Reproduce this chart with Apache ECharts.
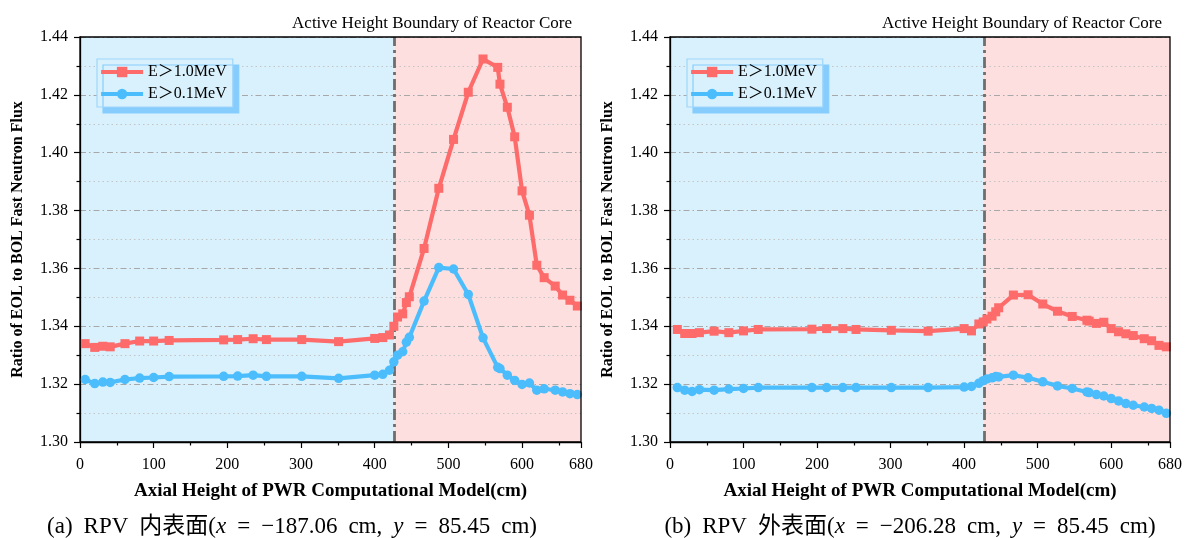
<!DOCTYPE html>
<html>
<head>
<meta charset="utf-8">
<script src="https://cdn.jsdelivr.net/npm/echarts@6/dist/echarts.min.js"></script>
<style>html,body{margin:0;padding:0;background:#fff}#c{width:1185px;height:538px}</style>
</head>
<body>
<div id="c"></div>
<script>
// ---- data ----
const seriesNames = ['E＞1.0MeV', 'E＞0.1MeV'];
const boundaryX = 427;
const yTicks = ['1.30', '1.32', '1.34', '1.36', '1.38', '1.40', '1.42', '1.44'];

const xLeft = [7, 20, 31, 41, 61, 81, 100, 121, 195, 214, 235, 253, 301, 351, 400, 411, 420, 426, 431, 438, 443, 447, 467, 487, 507, 527, 547, 567, 570, 580, 590, 600, 610, 620, 630, 645, 655, 665, 675];
const leftHigh = [1.3340, 1.3327, 1.3331, 1.3329, 1.3340, 1.3349, 1.3349, 1.3351, 1.3353, 1.3354, 1.3357, 1.3354, 1.3354, 1.3347, 1.3358, 1.3361, 1.3370, 1.3400, 1.3432, 1.3443, 1.3482, 1.3502, 1.3669, 1.3877, 1.4046, 1.4209, 1.4324, 1.4295, 1.4237, 1.4157, 1.4055, 1.3868, 1.3784, 1.3611, 1.3568, 1.3539, 1.3508, 1.3490, 1.3470];
const leftLow = [1.3216, 1.3202, 1.3207, 1.3206, 1.3216, 1.3221, 1.3223, 1.3226, 1.3227, 1.3228, 1.3231, 1.3227, 1.3227, 1.3220, 1.3231, 1.3234, 1.3248, 1.3277, 1.3300, 1.3312, 1.3345, 1.3362, 1.3487, 1.3603, 1.3598, 1.3510, 1.3360, 1.3258, 1.3254, 1.3231, 1.3213, 1.3199, 1.3204, 1.3179, 1.3184, 1.3179, 1.3173, 1.3167, 1.3164];

const xRight = [10, 20, 30, 40, 60, 80, 100, 120, 193, 213, 235, 253, 301, 351, 400, 410, 420, 426, 431, 438, 443, 447, 467, 487, 507, 527, 547, 567, 570, 580, 590, 600, 610, 620, 630, 645, 655, 665, 675];
const rightHigh = [1.3389, 1.3375, 1.3375, 1.3378, 1.3383, 1.3378, 1.3384, 1.3389, 1.3390, 1.3392, 1.3392, 1.3389, 1.3386, 1.3383, 1.3392, 1.3384, 1.3408, 1.3415, 1.3425, 1.3435, 1.3450, 1.3464, 1.3508, 1.3509, 1.3477, 1.3452, 1.3434, 1.3421, 1.3418, 1.3410, 1.3414, 1.3392, 1.3381, 1.3374, 1.3368, 1.3357, 1.3350, 1.3334, 1.3329];
const rightLow = [1.3188, 1.3179, 1.3175, 1.3181, 1.3179, 1.3183, 1.3185, 1.3188, 1.3188, 1.3188, 1.3188, 1.3188, 1.3188, 1.3188, 1.3190, 1.3192, 1.3203, 1.3212, 1.3218, 1.3222, 1.3226, 1.3225, 1.3231, 1.3222, 1.3208, 1.3194, 1.3185, 1.3173, 1.3171, 1.3164, 1.3159, 1.3150, 1.3142, 1.3133, 1.3127, 1.3121, 1.3116, 1.3110, 1.3099];

// caption pieces: [text, italic?]
const captionA = [['(a)', 0], [' ', 0], ['RPV', 0], [' ', 0], ['内表面(', 0], ['x', 1], [' ', 0], ['=', 0], [' ', 0], ['−187.06', 0], [' ', 0], ['cm,', 0], [' ', 0], ['y', 1], [' ', 0], ['=', 0], [' ', 0], ['85.45', 0], [' ', 0], ['cm)', 0]];
const captionB = [['(b)', 0], [' ', 0], ['RPV', 0], [' ', 0], ['外表面(', 0], ['x', 1], [' ', 0], ['=', 0], [' ', 0], ['−206.28', 0], [' ', 0], ['cm,', 0], [' ', 0], ['y', 1], [' ', 0], ['=', 0], [' ', 0], ['85.45', 0], [' ', 0], ['cm)', 0]];
const topNote = 'Active Height Boundary of Reactor Core';
const xName = 'Axial Height of PWR Computational Model(cm)';
const yName = 'Ratio of EOL to BOL Fast Neutron Flux';

// ---- style ----
const SERIF = '"Liberation Serif", "Times New Roman", "Noto Sans CJK SC", serif';
const RED = '#fd6b6b';
const BLUE = '#4cbdfc';
const BG_BLUE = '#d9f1fd';
const BG_PINK = '#fddfdf';

function pairs(xs, ys) { return xs.map((x, i) => [x, ys[i]]); }

const grids = [
  { left: 80, right: 604, top: 37, bottom: 96 },
  { left: 670, right: 14, top: 37, bottom: 96 }
];

function xAxisFor(i) {
  return {
    type: 'value', gridIndex: i, min: 0, max: 680, interval: 100, z: 2,
    name: xName, nameLocation: 'middle', nameGap: 40,
    nameTextStyle: { fontFamily: SERIF, fontSize: 19, fontWeight: 'bold', color: '#000' },
    axisLine: { show: true, onZero: false, lineStyle: { color: '#000', width: 1.3 } },
    axisTick: { show: true, inside: false, length: 6, lineStyle: { color: '#000', width: 1.2 } },
    minorTick: { show: true, splitNumber: 2, length: 3.5, lineStyle: { color: '#000', width: 1.2 } },
    axisLabel: { fontFamily: SERIF, fontSize: 16, color: '#000', margin: 15, showMaxLabel: true },
    splitLine: { show: false }
  };
}
function yAxisFor(i) {
  return {
    type: 'value', gridIndex: i, min: 1.30, max: 1.44, interval: 0.02, z: 2,
    name: yName, nameLocation: 'middle', nameGap: 54, nameRotate: 90,
    nameTextStyle: { fontFamily: SERIF, fontSize: 16, fontWeight: 'bold', color: '#000' },
    axisLine: { show: true, onZero: false, lineStyle: { color: '#000', width: 1.3 } },
    axisTick: { show: true, inside: false, length: 6, lineStyle: { color: '#000', width: 1.2 } },
    minorTick: { show: true, splitNumber: 2, length: 3.5, lineStyle: { color: '#000', width: 1.2 } },
    axisLabel: {
      fontFamily: SERIF, fontSize: 16, color: '#000', margin: 12,
      formatter: v => yTicks[Math.round((v - 1.30) / 0.02)] || v.toFixed(2)
    },
    splitLine: { show: true, lineStyle: { color: '#a8a8a8', width: 1, type: [6, 3, 1.5, 3] } },
    minorSplitLine: { show: true, lineStyle: { color: '#c4c4c4', width: 1, type: [1.5, 3] } }
  };
}

function bgSeries(i) {
  return {
    type: 'line', xAxisIndex: i, yAxisIndex: i, data: [], z: 0, silent: true,
    markArea: {
      silent: true, z: 0,
      data: [
        [{ xAxis: 0, itemStyle: { color: BG_BLUE } }, { xAxis: boundaryX }],
        [{ xAxis: boundaryX, itemStyle: { color: BG_PINK } }, { xAxis: 680 }]
      ]
    }
  };
}
function boundarySeries(i) {
  return {
    type: 'line', xAxisIndex: i, yAxisIndex: i, data: [], z: 3, silent: true,
    markLine: {
      silent: true, z: 3, symbol: ['none', 'none'], label: { show: false },
      lineStyle: { color: '#6e6e6e', width: 2.8, type: [11, 4, 3, 4] },
      data: [{ xAxis: boundaryX }]
    }
  };
}
function dataSeries(i, name, xs, ys, color, symbol) {
  return {
    name: name, type: 'line', xAxisIndex: i, yAxisIndex: i, z: 4,
    data: pairs(xs, ys), symbol: symbol, symbolSize: symbol === 'rect' ? 9 : 9.5,
    lineStyle: { color: color, width: 4.2 }, itemStyle: { color: color },
    emphasis: { disabled: true }, animation: false
  };
}

function legendFor(left) {
  return {
    left: left, top: 59, orient: 'vertical', data: seriesNames,
    itemWidth: 42, itemHeight: 13, itemGap: 6,
    padding: [5, 6, 5, 2],
    backgroundColor: BG_BLUE, borderColor: '#9fd6fb', borderWidth: 1.2,
    shadowColor: '#86cdfd', shadowBlur: 0, shadowOffsetX: 6, shadowOffsetY: 6,
    lineStyle: { width: 4.2 },
    textStyle: { fontFamily: SERIF, fontSize: 16, color: '#000' },
    selectedMode: false
  };
}

function caption(cx, parts) {
  const t = parts.map(p => (p[0] === ' ' ? '{s| }' : (p[1] ? '{i|' + p[0] + '}' : '{n|' + p[0] + '}'))).join('');
  return {
    type: 'text', x: cx, y: 527, z: 10,
    style: {
      text: t, align: 'center', verticalAlign: 'middle',
      rich: {
        n: { fontFamily: SERIF, fontSize: 23, fill: '#000' },
        i: { fontFamily: SERIF, fontSize: 23, fontStyle: 'italic', fill: '#000' },
        s: { fontFamily: SERIF, fontSize: 23, width: 11 }
      }
    }
  };
}

const chart = echarts.init(document.getElementById('c'), null, { renderer: 'canvas' });
chart.setOption({
  animation: false,
  backgroundColor: '#fff',
  grid: grids.map(g => Object.assign({ show: true, borderColor: '#000', borderWidth: 1.3, backgroundColor: 'transparent', z: 5 }, g)),
  xAxis: [xAxisFor(0), xAxisFor(1)],
  yAxis: [yAxisFor(0), yAxisFor(1)],
  legend: [legendFor(97), legendFor(687)],
  title: [
    { text: topNote, right: 608, top: 10, textStyle: { fontFamily: SERIF, fontSize: 17, fontWeight: 'normal', color: '#000' } },
    { text: topNote, right: 18, top: 10, textStyle: { fontFamily: SERIF, fontSize: 17, fontWeight: 'normal', color: '#000' } }
  ],
  graphic: [caption(292, captionA), caption(910, captionB)],
  series: [
    bgSeries(0), boundarySeries(0),
    dataSeries(0, seriesNames[0], xLeft, leftHigh, RED, 'rect'),
    dataSeries(0, seriesNames[1], xLeft, leftLow, BLUE, 'circle'),
    bgSeries(1), boundarySeries(1),
    dataSeries(1, seriesNames[0], xRight, rightHigh, RED, 'rect'),
    dataSeries(1, seriesNames[1], xRight, rightLow, BLUE, 'circle')
  ]
});
</script>
</body>
</html>
